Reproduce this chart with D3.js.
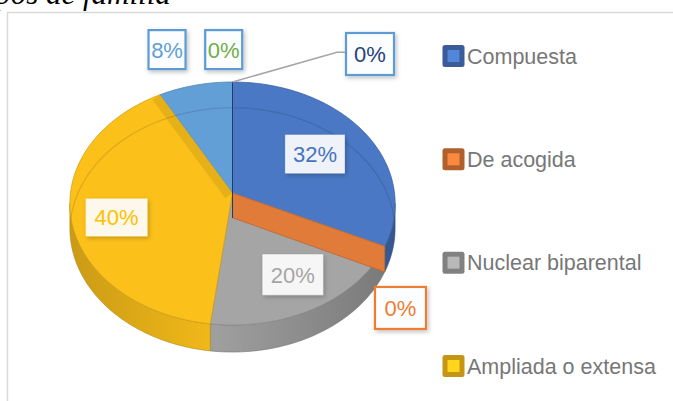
<!DOCTYPE html>
<html>
<head>
<meta charset="utf-8">
<script src="https://cdn.jsdelivr.net/npm/d3@7"></script>
<style>
  body { margin: 0; background: #fff; }
  svg { display: block; }
</style>
</head>
<body>
<div id="chart"></div>
<script>
// data (percentages as printed on the slices)
const categories = ["Compuesta", "De acogida", "Nuclear biparental", "Ampliada o extensa", "Otra", "Otra 2", "Otra 3"];
const values = [32, 0, 20, 40, 8, 0, 0];
const labels = ["32%", "0%", "20%", "40%", "8%", "0%", "0%"];
const colors = ["#4a78c4", "#e07b39", "#a5a5a5", "#fbc01a", "#619fd6", "#70ad47", "#264478"];
const legendCount = 4;
const title = "Tipos de familia";

const width = 673;
const height = 401;

// 3D pie geometry (ellipse with a bit of perspective)
const cx = 232.5, cy = 193, rx = 162, ry = 120.6, persp = 0.0864, thick = 24.7;

function project(theta, r, depth) {
    const u = r * Math.sin(theta), v = r * Math.cos(theta);
    const w = 1 + persp * v;
    return [cx + rx * u / w, cy - ry * v / w + depth / w];
}

function arcPoints(a0, a1, r, depth) {
    const n = Math.max(2, Math.ceil(Math.abs(a1 - a0) / (Math.PI / 180)));
    return d3.range(n + 1).map(i => project(a0 + (a1 - a0) * i / n, r, depth));
}

const line = d3.line();

const svg = d3.select("#chart").append("svg")
    .attr("width", width)
    .attr("height", height)
    .attr("viewBox", [0, 0, width, height]);

const defs = svg.append("defs");

defs.append("filter").attr("id", "shadow")
    .attr("x", "-30%").attr("y", "-30%").attr("width", "160%").attr("height", "170%")
    .append("feDropShadow")
    .attr("dx", 1.5).attr("dy", 2).attr("stdDeviation", 2)
    .attr("flood-color", "#000").attr("flood-opacity", 0.25);

// wall shading per slice colour
colors.forEach((c, i) => {
    const grad = defs.append("linearGradient").attr("id", "wall" + i)
        .attr("gradientUnits", "userSpaceOnUse")
        .attr("x1", cx - rx).attr("x2", cx + rx).attr("y1", 0).attr("y2", 0);
    grad.append("stop").attr("offset", "0%").attr("stop-color", d3.color(c).darker(0.6));
    grad.append("stop").attr("offset", "45%").attr("stop-color", d3.color(c).darker(0.1));
    grad.append("stop").attr("offset", "100%").attr("stop-color", d3.color(c).darker(0.9));
});

defs.append("clipPath").attr("id", "topClip")
    .append("path").attr("d", line(arcPoints(0, 2 * Math.PI, 1, 0)) + "Z");

// title, mostly cut off at the top
svg.append("text")
    .attr("x", -29).attr("y", 4)
    .attr("font-family", "Liberation Serif, serif")
    .attr("font-style", "italic")
    .attr("font-size", 31)
    .attr("fill", "#000")
    .text(title);

// chart frame
svg.append("rect")
    .attr("x", 7.5).attr("y", 12.5)
    .attr("width", 700).attr("height", 420)
    .attr("fill", "none")
    .attr("stroke", "#d9d9d9")
    .attr("stroke-width", 1.5);

const pie = d3.pie().sort(null).value(d => d);
const arcs = pie(values).map((a, i) => ({ ...a, i }));

const g = svg.append("g");

// outer walls (only the part facing the viewer)
const visLo = Math.acos(-persp), visHi = 2 * Math.PI - visLo;
arcs.forEach(d => {
    const a0 = Math.max(d.startAngle, visLo), a1 = Math.min(d.endAngle, visHi);
    if (a1 <= a0) return;
    const pts = arcPoints(a0, a1, 1, 0).concat(arcPoints(a1, a0, 1, thick));
    g.append("path")
        .attr("d", line(pts) + "Z")
        .attr("fill", `url(#wall${d.i})`)
        .attr("stroke", d3.color(colors[d.i]).darker(1))
        .attr("stroke-width", 0.6);
});

// top faces
arcs.filter(d => d.endAngle > d.startAngle).forEach(d => {
    const pts = [project(0, 0, 0)].concat(arcPoints(d.startAngle, d.endAngle, 1, 0));
    g.append("path")
        .attr("d", line(pts) + "Z")
        .attr("fill", colors[d.i])
        .attr("stroke", d3.color(colors[d.i]).darker(0.5))
        .attr("stroke-width", 0.8);
    defs.append("clipPath").attr("id", "slice" + d.i)
        .append("path").attr("d", line(pts) + "Z");
});

// bevel band along the yellow slice edge
const yellow = arcs[3];
g.append("line")
    .attr("clip-path", "url(#slice3)")
    .attr("x1", project(0, 0, 0)[0]).attr("y1", project(0, 0, 0)[1])
    .attr("x2", project(yellow.endAngle, 1, 0)[0]).attr("y2", project(yellow.endAngle, 1, 0)[1])
    .attr("stroke", d3.color(colors[3]).darker(0.25))
    .attr("stroke-width", 18);

// faint bevel line near the rim
g.append("path")
    .attr("clip-path", "url(#topClip)")
    .attr("d", line(arcPoints(-1.75, 1.75, 1, 28)))
    .attr("fill", "none")
    .attr("stroke", "rgba(0,0,0,0.12)")
    .attr("stroke-width", 1.2);

// zero slices are drawn as flat vertical planes (as the 3D chart does)
arcs.filter(d => d.endAngle === d.startAngle).forEach(d => {
    const a = d.startAngle;
    const pts = [project(a, 0, 0), project(a, 1, 0), project(a, 1, thick), project(a, 0, thick)];
    g.append("path")
        .attr("d", line(pts) + "Z")
        .attr("fill", colors[d.i])
        .attr("stroke", d3.color(colors[d.i]).darker(0.5))
        .attr("stroke-width", 0.8);
});

// data labels
const inside = { 0: { r: 0.62, dy: 0 }, 2: { r: 0.73, dy: 0 }, 3: { r: 0.72, dy: 8 } };
const boxSize = { 0: [59, 38], 1: [51, 42], 2: [60, 40], 3: [61, 37], 4: [37, 39], 5: [37, 39], 6: [48, 42] };

function labelCenter(d) {
    const mid = (d.startAngle + d.endAngle) / 2;
    if (inside[d.i]) {
        const p = project(mid, inside[d.i].r, 0);
        return [p[0], p[1] + inside[d.i].dy];
    }
    const [w, h] = boxSize[d.i];
    if (d.i === 1) {
        const a = project(mid, 1, thick);
        return [a[0] - 9.7 + w / 2, a[1] + 15 + h / 2];
    }
    const a = project(mid, 1, 0);
    if (d.i === 4) return [a[0] - 28.3, a[1] - 35.6];
    if (d.i === 5) return [a[0] - 8.8, a[1] - 32.4];
    return [a[0] + 137.5, a[1] - 28];
}

const labelLayer = svg.append("g");

// leader line to the moved label
{
    const d = arcs[6];
    const a = project(d.startAngle, 1, 0);
    const c = labelCenter(d);
    const left = c[0] - boxSize[6][0] / 2;
    labelLayer.append("path")
        .attr("d", line([a, [left - 9, c[1] - 1.7], [left, c[1] - 1.7]]))
        .attr("fill", "none")
        .attr("stroke", "#a6a6a6")
        .attr("stroke-width", 1.5);
}

arcs.forEach(d => {
    const [x, y] = labelCenter(d);
    const [w, h] = boxSize[d.i];
    const isIn = !!inside[d.i];
    const lg = labelLayer.append("g").attr("transform", `translate(${x},${y})`);
    lg.append("rect")
        .attr("x", -w / 2).attr("y", -h / 2)
        .attr("width", w).attr("height", h)
        .attr("fill", isIn ? "rgba(255,255,255,0.9)" : "#fcfdff")
        .attr("stroke", isIn ? "rgba(255,255,255,0.6)" : (d.i === 1 ? "#ed7d31" : "#5b9bd5"))
        .attr("stroke-width", isIn ? 1 : 2.2)
        .attr("filter", "url(#shadow)");
    lg.append("text")
        .attr("text-anchor", "middle")
        .attr("dy", "0.36em")
        .attr("font-family", "Liberation Sans, Arial, sans-serif")
        .attr("font-size", 22)
        .attr("fill", d.i === 0 ? "#4472c4" : d.i === 1 ? "#ed7d31" : d.i === 3 ? "#ffc000" : colors[d.i])
        .text(labels[d.i]);
});

// legend (first four categories only)
const legendY = d3.scaleLinear().domain([0, legendCount - 1]).range([56, 366]);
const legend = svg.append("g");
categories.slice(0, legendCount).forEach((name, i) => {
    const y = legendY(i);
    const c = d3.color(colors[i]);
    legend.append("rect")
        .attr("x", 442.5).attr("y", y - 11)
        .attr("width", 22).attr("height", 22)
        .attr("rx", 2.5)
        .attr("fill", c.darker(0.7));
    legend.append("rect")
        .attr("x", 447.5).attr("y", y - 6)
        .attr("width", 12).attr("height", 12)
        .attr("fill", c.brighter(0.3));
    legend.append("text")
        .attr("x", 467).attr("y", y)
        .attr("dy", "0.36em")
        .attr("font-family", "Liberation Sans, Arial, sans-serif")
        .attr("font-size", 21.5)
        .attr("fill", "#777")
        .text(name);
});
</script>
</body>
</html>
